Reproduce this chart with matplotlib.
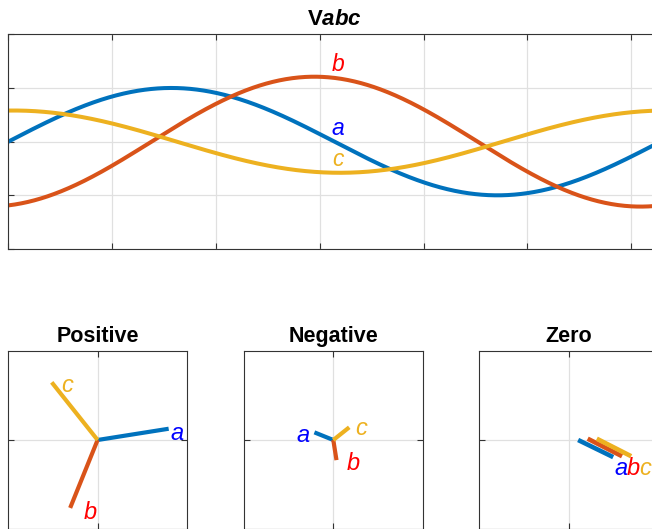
import numpy as np
import matplotlib
matplotlib.use("Agg")
import matplotlib.pyplot as plt

# fazy i kolory
phases = ["a", "b", "c"]
line_colors = ["#0072BD", "#D95319", "#EDB120"]
label_colors = ["#0000FF", "#FF0000", "#EDB120"]

# przebiegi Vabc: amplituda i faza [deg]
amp = [1.0, 1.21, 0.58]
phase_deg = [0.0, -79.0, 87.0]

# wskazy skladowych symetrycznych (modul, kat [deg])
pos_mag = [0.83, 0.845, 0.85]
pos_ang = [9.0, -112.0, 128.5]
neg_mag = [0.235, 0.235, 0.235]
neg_ang = [158.0, -81.0, 38.5]
zero_mag = [0.45, 0.445, 0.445]
zero_ang = [-26.0, -27.0, -27.0]
zero_x0 = [0.11, 0.22, 0.325]
zero_y0 = [0.0, 0.015, 0.015]

seq_titles = ["Positive", "Negative", "Zero"]

plt.rcParams["font.family"] = ["Liberation Sans", "DejaVu Sans"]
plt.rcParams["mathtext.fontset"] = "custom"
plt.rcParams["mathtext.rm"] = "Liberation Sans"
plt.rcParams["mathtext.bf"] = "Liberation Sans:bold"
plt.rcParams["mathtext.it"] = "Liberation Sans:italic"
plt.rcParams["mathtext.bfit"] = "Liberation Sans:italic:bold"

W, H = 652, 529
PX = 0.72  # punkty na piksel przy dpi=100
spine_col = "#333333"
grid_col = "#e0e0e0"

fig = plt.figure(figsize=(W / 100, H / 100), dpi=100)


def style_axes(ax):
    for s in ax.spines.values():
        s.set_color(spine_col)
        s.set_linewidth(0.8)
    ax.tick_params(direction="in", top=True, right=True, length=4.5,
                   width=0.8, color=spine_col,
                   labelbottom=False, labelleft=False)
    ax.grid(True, color=grid_col, linewidth=0.9)
    ax.set_axisbelow(True)


# --- Vabc ---
ax = fig.add_axes([8.3 / W, (H - 249) / H, 652.2 / W, (249 - 34.3) / H])
t = np.linspace(0, 2 * np.pi, 800)
for i in range(3):
    v = amp[i] * np.sin(t + np.deg2rad(phase_deg[i]))
    ax.plot(t, v, color=line_colors[i], lw=2.9)
    vp = amp[i] * np.sin(np.pi + np.deg2rad(phase_deg[i]))
    ax.annotate(phases[i], (np.pi, vp), xytext=(-2.5 * PX, 7 * PX),
                textcoords="offset points", ha="left", va="baseline",
                color=label_colors[i], fontsize=16.5, style="italic")
ax.set_xlim(0, 2 * np.pi)
ax.set_ylim(-2, 2)
ax.set_xticks(np.arange(0, 7))
ax.set_yticks([-2, -1, 0, 1, 2])
style_axes(ax)
ax.set_title(r"$\mathbf{V}\mathbfit{abc}$", fontsize=16, pad=7)

# --- skladowe symetryczne ---
lim = 1.03
lefts = [8.3, 244.0, 479.3]
mags = [pos_mag, neg_mag, zero_mag]
angs = [pos_ang, neg_ang, zero_ang]
x0s = [[0, 0, 0], [0, 0, 0], zero_x0]
y0s = [[0, 0, 0], [0, 0, 0], zero_y0]
# przesuniecia etykiet od konca wskazu [px]: dx, dy, wyrownanie
lab_off = [
    [(2, -11, "left"), (14, -11, "left"), (9, -9.6, "left")],
    [(-5, -9.4, "right"), (10, -10, "left"), (6, -7.7, "left")],
    [(1, -18, "left"), (4.7, -19, "left"), (8.4, -19, "left")],
]

for k in range(3):
    axp = fig.add_axes([lefts[k] / W, -0.3 / H, 178.6 / W, 178.6 / H])
    for i in range(3):
        x0, y0 = x0s[k][i], y0s[k][i]
        x1 = x0 + mags[k][i] * np.cos(np.deg2rad(angs[k][i]))
        y1 = y0 + mags[k][i] * np.sin(np.deg2rad(angs[k][i]))
        axp.plot([x0, x1], [y0, y1], color=line_colors[i],
                 lw=3.3 if k == 2 else 3, solid_capstyle="butt")
        dx, dy, ha = lab_off[k][i]
        axp.annotate(phases[i], (x1, y1), xytext=(dx * PX, dy * PX),
                     textcoords="offset points", ha=ha, va="baseline",
                     color=label_colors[i], fontsize=17, style="italic",
                     annotation_clip=False)
    axp.set_xlim(-lim, lim)
    axp.set_ylim(-lim, lim)
    axp.set_xticks([0])
    axp.set_yticks([0])
    style_axes(axp)
    axp.set_title(seq_titles[k], fontsize=15.5, fontweight="bold", pad=6.5)

fig.savefig("out.png", dpi=100)
